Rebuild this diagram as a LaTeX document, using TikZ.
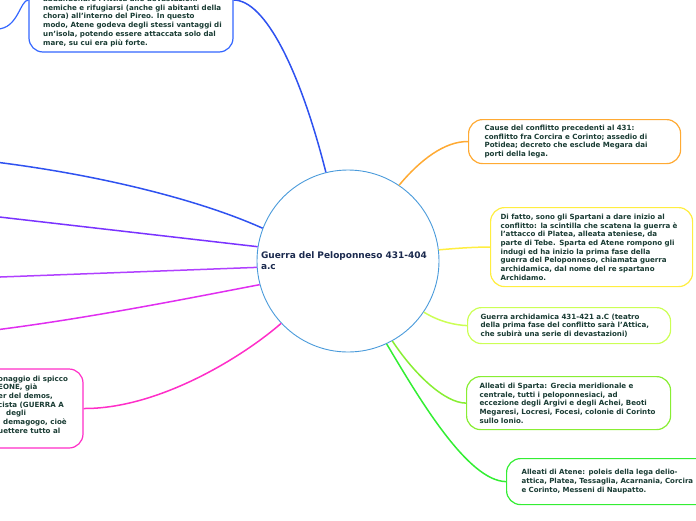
\documentclass[tikz,border=0pt]{standalone}
\usepackage{fontspec}
\setmainfont{DejaVu Sans}
\definecolor{cblue}{HTML}{2F52F0}
\definecolor{cboxblue}{HTML}{3366FF}
\definecolor{cpurple}{HTML}{7A33FF}
\definecolor{cviolet}{HTML}{B040FF}
\definecolor{cmagenta}{HTML}{E02EF0}
\definecolor{cpink}{HTML}{FF2EC8}
\definecolor{corange}{HTML}{FFAA33}
\definecolor{cyellow}{HTML}{FFEE40}
\definecolor{clime}{HTML}{CCFF55}
\definecolor{cgreen}{HTML}{88EE33}
\definecolor{cbright}{HTML}{33EE33}
\definecolor{ccirc}{HTML}{4A9BDB}
\definecolor{boxtext}{HTML}{1A3C34}
\definecolor{ctext}{HTML}{1B2A4E}
\begin{document}
\begin{tikzpicture}[x=1pt,y=-1pt,
  box/.style={draw, rounded corners=14pt, line width=1.2pt, inner sep=0pt, fill=white,
    font=\bfseries\fontsize{7.1}{8.7}\selectfont, text=boxtext, align=left},
  txt/.style={inner sep=0pt, font=\bfseries\fontsize{7.1}{8.7}\selectfont, text=boxtext, align=left},
  link/.style={line width=1.5pt},
]
\useasboundingbox (0,0) rectangle (696,520);

% central circle
\node[circle, draw=ccirc, line width=0.9pt, fill=white, minimum size=182pt, inner sep=0pt,
  text width=174pt, align=left, font=\bfseries\fontsize{9}{11}\selectfont, text=ctext]
  (c) at (348,261) {Guerra del Peloponneso 431-404\\a.c};

% top box (partly outside)
\node[box, draw=cboxblue, minimum width=204pt, minimum height=104pt] (b1) at (131,0) {};
\node[txt, anchor=north west] (t1) at (43,-4) {abbandonare l'Attica alle devastazioni\\
nemiche e rifugiarsi (anche gli abitanti della\\
chora) all'interno del Pireo. In questo\\
modo, Atene godeva degli stessi vantaggi di\\
un'isola, potendo essere attaccata solo dal\\
mare, su cui era più forte.};

% right boxes
\node[box, draw=corange, minimum width=212pt, minimum height=44pt, text width=180pt, anchor=north west]
  (b2) at (468,119) {Cause del conflitto precedenti al 431:\\
conflitto fra Corcira e Corinto; assedio di\\
Potidea; decreto che esclude Megara dai\\
porti della lega.};

\node[box, draw=cyellow, minimum width=202pt, minimum height=79pt, text width=182pt, anchor=north west]
  (b3) at (490,207) {Di fatto, sono gli Spartani a dare inizio al\\
conflitto: la scintilla che scatena la guerra è\\
l'attacco di Platea, alleata ateniese, da\\
parte di Tebe. Sparta ed Atene rompono gli\\
indugi ed ha inizio la prima fase della\\
guerra del Peloponneso, chiamata guerra\\
archidamica, dal nome del re spartano\\
Archidamo.};

\node[box, draw=clime, minimum width=203pt, minimum height=36pt, text width=177pt, anchor=north west]
  (b4) at (467,307) {Guerra archidamica 431-421 a.C (teatro\\
della prima fase del conflitto sarà l'Attica,\\
che subirà una serie di devastazioni)};

\node[box, draw=cbright, minimum width=222pt, minimum height=46pt, text width=192pt, anchor=north west,
  font=\bfseries\fontsize{7}{8.7}\selectfont]
  (b6) at (506,458) {Alleati di Atene: poleis della lega delio-\\
attica, Platea, Tessaglia, Acarnania, Corcira\\
e Corinto, Messeni di Naupatto.};

\node[box, draw=cgreen, minimum width=204pt, minimum height=53pt, text width=178pt, anchor=north west]
  (b5) at (466,376) {Alleati di Sparta: Grecia meridionale e\\
centrale, tutti i peloponnesiaci, ad\\
eccezione degli Argivi e degli Achei, Beoti\\
Megaresi, Locresi, Focesi, colonie di Corinto\\
sullo Ionio.};

% bottom-left box (partly outside)
\node[box, draw=cpink, minimum width=204pt, minimum height=79pt] (b7) at (-19,408.5) {};
\node[txt, anchor=north west] (t7) at (-2,375.5) {onaggio di spicco\\
EONE, già\\
er del demos,\\
cista (GUERRA A\\
\hspace*{8pt}degli\\
\hspace*{5pt}demagogo, cioè\\
uettere tutto al};

% free ends
\coordinate (l0) at (-3,29);
\coordinate (l1) at (-5,162);
\coordinate (l2) at (-5,216.5);
\coordinate (l3) at (-5,277.2);
\coordinate (l4) at (-5,330);

% connectors
\draw[link, cblue] (c.104.6) .. controls (300,70) and (265,0) .. (b1.east);
\draw[link, cboxblue, line width=1.2pt] (l0) .. controls (18,29) and (20,0) .. (b1.west);
\draw[link, cblue] (c.159.6) .. controls (200,200) and (100,175) .. (l1);
\draw[link, cpurple] (c.171) -- (l2);
\draw[link, cviolet] (c.184) -- (l3);
\draw[link, cmagenta] (c.195) .. controls (190,298) and (90,318) .. (l4);
\draw[link, cpink] (c.223) .. controls (245,355) and (160,409) .. (b7.east);
\draw[link, corange] (c.56) .. controls (420,160) and (445,141) .. (b2.west);
\draw[link, cyellow] (c.7) .. controls (460,248) and (475,247) .. (b3.west);
\draw[link, clime] (c.-34) .. controls (440,322) and (455,325) .. (b4.west);
\draw[link, cgreen] (c.-61.5) .. controls (415,375) and (445,403) .. (b5.west);
\draw[link, cbright] (c.-65.4) .. controls (420,400) and (468,481) .. (b6.west);
\end{tikzpicture}
\end{document}
